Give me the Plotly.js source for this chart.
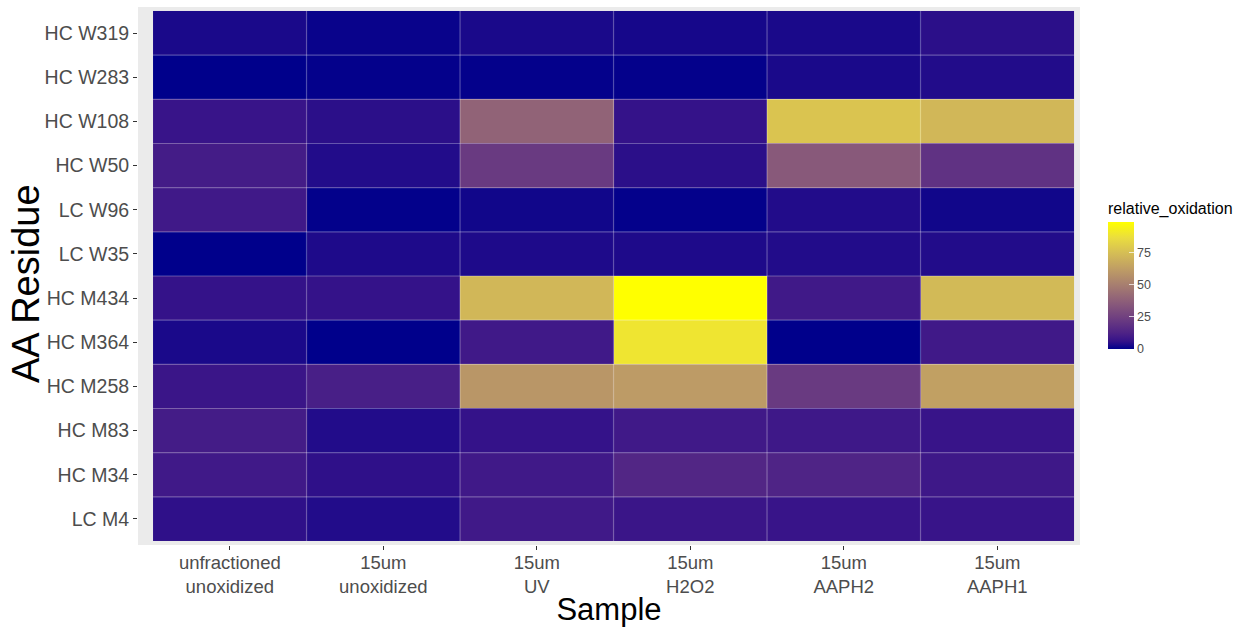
<!DOCTYPE html>
<html>
<head>
<meta charset="utf-8">
<script src="https://cdn.plot.ly/plotly-3.0.1.min.js"></script>
<style>
  html, body { margin: 0; padding: 0; background: #ffffff; }
  #chart { width: 1241px; height: 627px; }
</style>
</head>
<body>
<div id="chart"></div>
<script>
// Samples (x categories)
const samples = [
  "unfractioned<br>unoxidized",
  "15um<br>unoxidized",
  "15um<br>UV",
  "15um<br>H2O2",
  "15um<br>AAPH2",
  "15um<br>AAPH1"
];

// Residues listed top to bottom
const residues = [
  "HC W319", "HC W283", "HC W108", "HC W50", "LC W96", "LC W35",
  "HC M434", "HC M364", "HC M258", "HC M83", "HC M34", "LC M4"
];

// relative_oxidation per residue (row), one value per sample (column)
const hcW319 = [3, 1, 3, 2.5, 3, 5];
const hcW283 = [0, 0.5, 0.5, 0.5, 3, 4];
const hcW108 = [7, 5, 39, 6, 77, 72];
const hcW50  = [10, 4, 22, 5, 35, 19];
const lcW96  = [9, 0.3, 2, 0.5, 4, 2];
const lcW35  = [0, 3.5, 3.5, 3.5, 4, 4];
const hcM434 = [6, 6, 72, 98.5, 9, 73];
const hcM364 = [3, 0, 9, 89, 0, 9];
const hcM258 = [7.5, 11, 59, 61, 22, 63];
const hcM83  = [10, 4, 6, 9, 8.5, 7];
const hcM34  = [9, 5.5, 9, 14, 13, 8.5];
const lcM4   = [5.5, 4, 9, 7.5, 7, 7];

const zValues = [hcW319, hcW283, hcW108, hcW50, lcW96, lcW35,
                 hcM434, hcM364, hcM258, hcM83, hcM34, lcM4];

const legendTicks = [0, 25, 50, 75];

// darkblue -> yellow, interpolated in Lab space (as ggplot does)
const colorscale = [
  [0.0,    "rgb(0,0,139)"],
  [0.0625, "rgb(53,18,137)"],
  [0.125,  "rgb(77,34,134)"],
  [0.25,   "rgb(112,64,128)"],
  [0.375,  "rgb(141,94,121)"],
  [0.5,    "rgb(166,125,112)"],
  [0.625,  "rgb(190,156,101)"],
  [0.75,   "rgb(212,188,86)"],
  [0.875,  "rgb(234,221,63)"],
  [1.0,    "rgb(255,255,0)"]
];

const allVals = zValues.flat();
const zmin = Math.min(...allVals);
const zmax = Math.max(...allVals);
const FONT = "Liberation Sans, Arial, sans-serif";

// plot area in pixels (panel incl. grey margin)
const L = 138, R = 1080, T = 7, B = 545;
const W = R - L, H = B - T;

const trace = {
  type: "heatmap",
  x: samples,
  y: residues,
  z: zValues,
  zmin: zmin,
  zmax: zmax,
  colorscale: colorscale,
  hoverinfo: "skip",
  colorbar: {
    title: { text: "relative_oxidation", side: "top", font: { family: FONT, size: 16, color: "#000000" } },
    tickvals: legendTicks,
    ticktext: legendTicks.map(String),
    ticks: "inside",
    ticklen: 5,
    tickcolor: "rgba(255,255,255,0.7)",
    tickfont: { family: FONT, size: 12.5, color: "#4D4D4D" },
    thickness: 26,
    thicknessmode: "pixels",
    len: 150,
    lenmode: "pixels",
    x: (1108 - L) / W,
    xanchor: "left",
    y: (B - 274) / H,
    yanchor: "middle",
    xpad: 0,
    ypad: 0,
    outlinewidth: 0
  }
};

// Light separators between tiles
const shapes = [];
for (let i = 1; i < samples.length; i++) {
  shapes.push({ type: "line", xref: "x", yref: "y", x0: i - 0.5, x1: i - 0.5, y0: -0.5, y1: residues.length - 0.5,
    line: { color: "rgba(255,255,255,0.3)", width: 1.2 }, layer: "above" });
}
for (let j = 1; j < residues.length; j++) {
  shapes.push({ type: "line", xref: "x", yref: "y", x0: -0.5, x1: samples.length - 0.5, y0: j - 0.5, y1: j - 0.5,
    line: { color: "rgba(255,255,255,0.3)", width: 1.2 }, layer: "above" });
}

const layout = {
  width: 1241,
  height: 627,
  margin: { l: L, r: 1241 - R, t: T, b: 627 - B, pad: 0 },
  paper_bgcolor: "#FFFFFF",
  plot_bgcolor: "#EBEBEB",
  font: { family: FONT, color: "#4D4D4D" },
  showlegend: false,
  shapes: shapes,
  annotations: [{
    text: "AA Residue",
    xref: "paper", yref: "paper",
    x: (26 - L) / W, y: (B - 284) / H,
    xanchor: "center", yanchor: "middle",
    textangle: -90,
    showarrow: false,
    font: { family: FONT, size: 38, color: "#000000" }
  }],
  xaxis: {
    type: "category",
    range: [-0.598, samples.length - 0.5 + 0.039],
    showgrid: false,
    zeroline: false,
    showline: false,
    ticks: "outside",
    ticklen: 4,
    tickwidth: 1,
    tickcolor: "#333333",
    ticklabelstandoff: -3,
    tickfont: { size: 18.5, color: "#4D4D4D" },
    title: { text: "Sample", font: { size: 31, color: "#000000" }, standoff: 3 },
    automargin: false,
    fixedrange: true
  },
  yaxis: {
    type: "category",
    range: [residues.length - 0.5 + 0.09, -0.59],
    showgrid: false,
    zeroline: false,
    showline: false,
    ticks: "outside",
    ticklen: 4,
    tickwidth: 1,
    tickcolor: "#333333",
    tickfont: { size: 19.5, color: "#4D4D4D" },
    automargin: false,
    fixedrange: true
  }
};

Plotly.newPlot("chart", [trace], layout, { displayModeBar: false, staticPlot: true });
</script>
</body>
</html>
